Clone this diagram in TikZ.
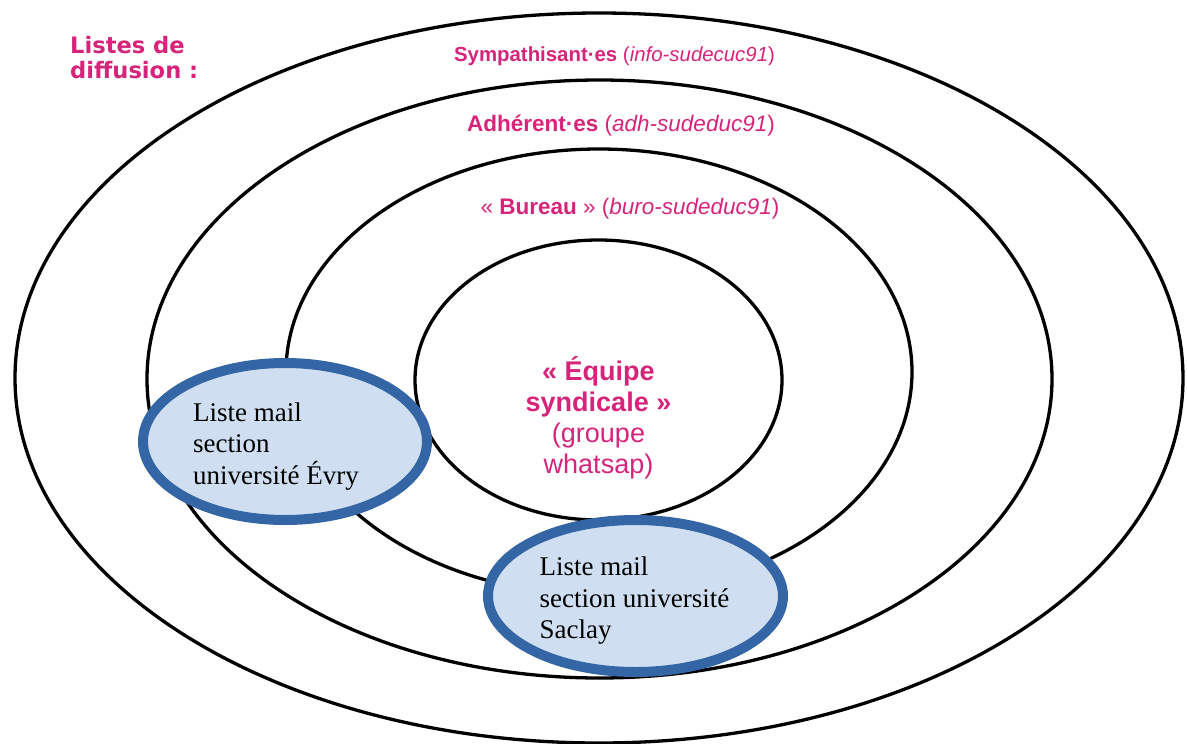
\documentclass[tikz,border=0pt]{standalone}
\usepackage{fontspec}
\setmainfont{Liberation Serif}
\newfontfamily\labelfont{Liberation Sans}
\newfontfamily\titlefont{DejaVu Sans}
\usetikzlibrary{shapes.geometric}
\definecolor{rose}{HTML}{D6247A}
\definecolor{mailblue}{HTML}{3465A4}
\definecolor{mailfill}{HTML}{CFDFF1}
\tikzset{
  ring/.style={draw=black, ellipse, line width=3.3pt, inner sep=0pt},
  maillist/.style={ellipse, draw=mailblue, fill=mailfill, line width=10pt, inner sep=0pt},
  mailtext/.style={anchor=west, inner sep=0pt, align=left, font=\fontsize{27}{31.5}\selectfont},
  listlabel/.style={text=rose, anchor=base, inner sep=0pt, font=\labelfont\fontsize{22.5}{26}\selectfont},
}

\begin{document}
\begin{tikzpicture}[x=1pt, y=-1pt]
  \useasboundingbox (0,0) rectangle (1187,744);
  % nested distribution lists
  \node[ring, minimum width=1168, minimum height=730] (sympa) at (599,378) {};
  \node[ring, minimum width=905, minimum height=598] (adh) at (599.5,379) {};
  \node[ring, minimum width=626, minimum height=446] (buro) at (599,372) {};
  \node[ring, minimum width=367, minimum height=280] (equipe) at (598.5,380) {};
  % local section lists
  \node[maillist, minimum width=284, minimum height=157] (evry) at (285,441.5) {};
  \node[maillist, minimum width=295, minimum height=152] (saclay) at (635.5,596) {};
  \node[mailtext] (evrytxt) at ([xshift=-92,yshift=-5]evry.center) {Liste mail\\section\\université Évry};
  \node[mailtext] (saclaytxt) at ([xshift=-96,yshift=-5]saclay.center) {Liste mail\\section université\\Saclay};
  % labels
  \node[text=rose, anchor=north west, inner sep=0pt, align=left, font=\titlefont\bfseries\fontsize{22.6}{25.5}\selectfont]
    (title) at (70,36) {Listes de\\diffusion :};
  \node[listlabel, font=\labelfont\fontsize{20.4}{24}\selectfont] (sympalbl) at (614.5,61) {\textbf{Sympathisant·es} (\textit{info-sudecuc91})};
  \node[listlabel] (adhlbl) at (621,131) {\textbf{Adhérent·es} (\textit{adh-sudeduc91})};
  \node[listlabel] (burolbl) at (630,214) {« \textbf{Bureau} » (\textit{buro-sudeduc91})};
  \node[text=rose, align=center, inner sep=0pt, font=\labelfont\fontsize{27}{31}\selectfont]
    (equipelbl) at (598.5,418) {\textbf{« Équipe}\\\textbf{syndicale »}\\(groupe\\whatsap)};
\end{tikzpicture}
\end{document}
